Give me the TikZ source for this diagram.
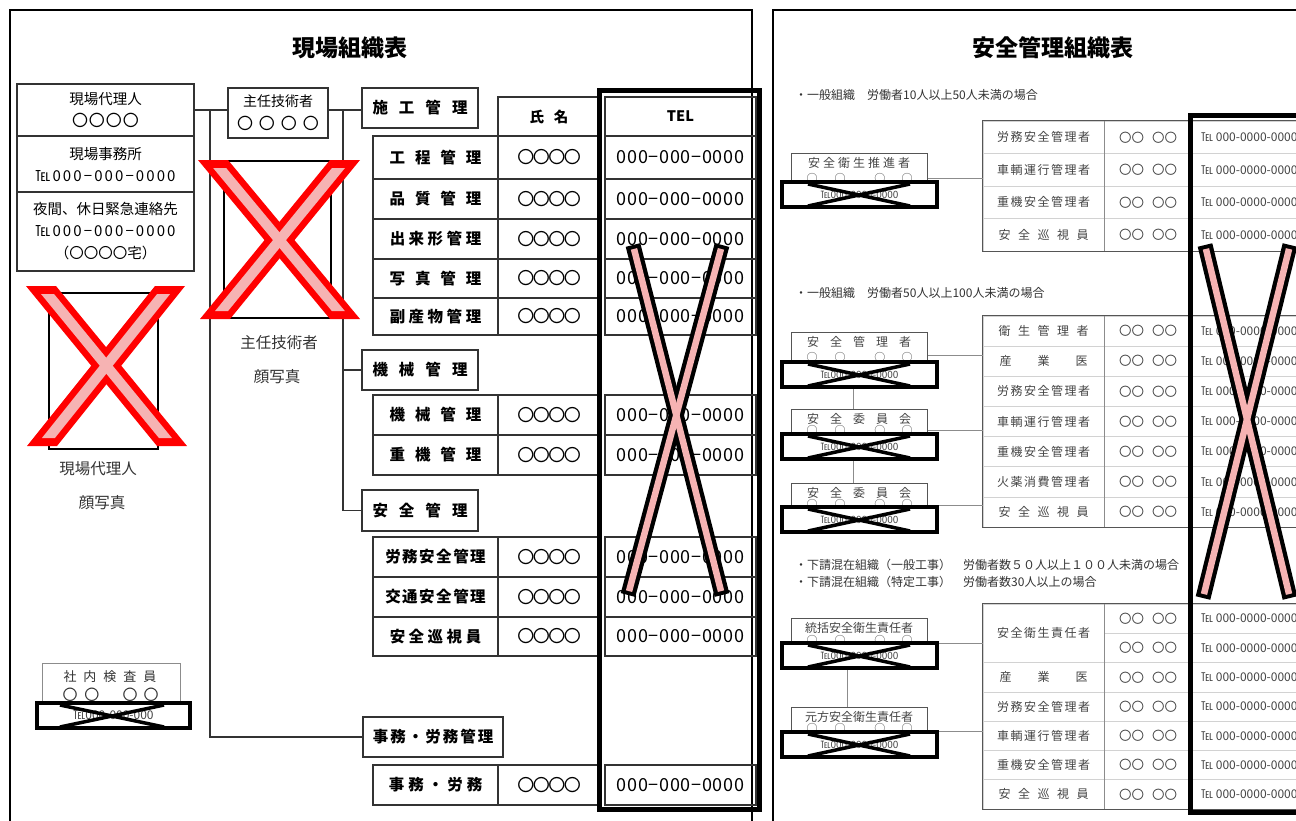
\documentclass[tikz,border=0pt]{standalone}
\usepackage{fontspec}
\setmainfont{Noto Sans CJK JP}
\definecolor{dk}{HTML}{333333}
\definecolor{rtxt}{HTML}{444444}
\definecolor{rlight}{HTML}{D2D2D2}
\definecolor{rmid}{HTML}{8C8C8C}
\definecolor{rbord}{HTML}{555555}
\definecolor{pinkx}{HTML}{F6B3B3}
\definecolor{redx}{HTML}{FF0000}
% letter spacing helper
\newcommand\lsp[2]{\def\lsgap{#1}\lspA#2\relax}
\def\lspA#1#2{#1\ifx\relax#2\else\hspace{\lsgap}\expandafter\lspA\expandafter#2\fi}
% fonts
\newcommand\lf{\fontsize{14.5}{22}\selectfont}
\newcommand\telA{\addfontfeature{LetterSpace=14}\fontsize{15}{22}\selectfont}
\newcommand\lab{\fontsize{15.5}{15.5}\selectfont\bfseries}
\newcommand\lname{\fontsize{17}{17}\selectfont}
\newcommand\ltel{\addfontfeature{LetterSpace=4}\fontsize{18}{18}\selectfont}
\newcommand\rname{\fontsize{12.5}{12.5}\selectfont 〇〇\hspace{8pt}〇〇}
\newcommand\ktel{\fontsize{10}{10}\selectfont}
\tikzset{
  frm/.style={draw=black,line width=2pt},
  ttl/.style={font=\fontsize{23}{23}\selectfont\bfseries,text=black},
  lbox/.style={draw=dk,line width=1.5pt,inner sep=0pt,text=black},
  lcell/.style={draw=dk,line width=1.3pt,inner sep=0pt,text=black},
  conn/.style={draw=dk,line width=1.3pt},
  conn2/.style={draw=rmid,line width=1pt},
  bigr/.style={draw=black,line width=5pt,inner sep=0pt},
  xblack/.style={draw=black,line width=15pt},
  xpink/.style={draw=pinkx,line width=6.5pt,shorten <=4pt,shorten >=4pt},
  photo/.style={draw=black,line width=2.5pt,inner sep=0pt},
  captxt/.style={font=\fontsize{15.5}{15.5}\selectfont,text=dk},
  gbox/.style={draw=rmid,line width=1pt,inner sep=0pt},
  telr/.style={draw=black,fill=white,line width=4pt,inner sep=0pt,text=rtxt},
  xl/.style={draw=black,line width=3.5pt},
  rcell/.style={draw=rlight,line width=0.8pt,inner sep=0pt,text=rtxt,font=\fontsize{12}{12}\selectfont},
  rtel/.style={inner sep=0pt,text=rtxt,font=\fontsize{12}{12}\selectfont},
  rmidl/.style={draw=rmid,line width=1pt},
  rbordl/.style={draw=rbord,line width=1.3pt},
  rhead/.style={anchor=west,inner sep=0pt,text=dk,font=\fontsize{12}{12}\selectfont},
  kbx/.style={draw=rbord,line width=1pt,minimum width=136pt,inner sep=0pt},
  ktx/.style={inner sep=0pt,text=rtxt,font=\fontsize{12}{12}\selectfont},
  kcx/.style={inner sep=0pt,text=rtxt,font=\fontsize{11}{11}\selectfont},
}
% left table row
\newcommand\lrow[4]{%
  \pgfmathsetmacro\ym{(#2+#3)/2}\pgfmathsetmacro\hh{#3-#2}%
  \node[lcell,minimum width=125pt,minimum height=\hh pt,font=\lab] (#1a) at (435.5,\ym) {#4};
  \node[lcell,minimum width=102pt,minimum height=\hh pt,font=\lname] (#1b) at (549,\ym) {\lsp{-1.5pt}{〇〇〇〇}};
  \node[lcell,minimum width=151pt,minimum height=\hh pt,font=\ltel] (#1c) at (680.5,\ym) {000−000−0000};}
% right table row
\newcommand\rnt[3]{%
  \pgfmathsetmacro\ym{(#2+#3)/2}\pgfmathsetmacro\hh{#3-#2}%
  \node[rcell,minimum width=88pt,minimum height=\hh pt] (#1b) at (1148,\ym) {\rname};
  \node[rcell,minimum width=118pt,minimum height=\hh pt] (#1c) at (1251,\ym) {};
  \node[rtel,anchor=west] (#1d) at (1201,\ym) {℡ 000-0000-0000};}
\newcommand\rrow[4]{%
  \pgfmathsetmacro\ym{(#2+#3)/2}\pgfmathsetmacro\hh{#3-#2}%
  \node[rcell,minimum width=121pt,minimum height=\hh pt] (#1a) at (1043.5,\ym) {#4};
  \rnt{#1}{#2}{#3}}
% small crossed boxes of the right sheet
\newcommand\kbox[6]{%
  \pgfmathsetmacro\km{(#2+#3)/2}\pgfmathsetmacro\kh{#3-#2}%
  \pgfmathsetmacro\kt{#2+10}\pgfmathsetmacro\kr{#6+12.5}%
  \node[kbx,minimum height=\kh pt] (#1) at (859,\km) {};
  \node[ktx] (#1t) at (859,\kt) {#4};
  \node[kcx] (#1c) at (859.5,#5) {○\hspace{17pt}○\hspace{29pt}○\hspace{16pt}○};
  \node[telr,minimum width=155pt,minimum height=25pt] (#1r) at (859.5,\kr) {\ktel ℡000-0000-0000};
  \draw[xl] ([shift={(28,4)}]#1r.north west) -- ([shift={(-29,-3)}]#1r.south east);
  \draw[xl] ([shift={(28,-3)}]#1r.south west) -- ([shift={(-29,4)}]#1r.north east);}
% red crossed-out photo
\newcommand\armpoly[6]{\path[#6] ({#1-#5},#2) -- ({#1+#5},#2) -- ({#3+#5},#4) -- ({#3-#5},#4) -- cycle;}
\newcommand\pinkarm[4]{%
  \pgfmathsetmacro\pf{8/(#4-#2)}%
  \pgfmathsetmacro\pxa{#1+(#3-#1)*\pf}\pgfmathsetmacro\pxb{#3-(#3-#1)*\pf}%
  \pgfmathsetmacro\pya{#2+8}\pgfmathsetmacro\pyb{#4-8}%
  \armpoly{\pxa}{\pya}{\pxb}{\pyb}{6.5}{fill=pinkx}}
\newcommand\redX[8]{%
  \armpoly{#1}{#2}{#3}{#4}{15}{fill=redx}
  \armpoly{#5}{#6}{#7}{#8}{15}{fill=redx}
  \pinkarm{#1}{#2}{#3}{#4}
  \pinkarm{#5}{#6}{#7}{#8}}
\begin{document}
\begin{tikzpicture}[x=1pt,y=-1pt]
\useasboundingbox (0,0) rectangle (1296,820);
\fill[white] (0,0) rectangle (1296,820);
%================= LEFT SHEET =================
\draw[frm] (10,10) rectangle (752,830);
\node[ttl] (ttl1) at (350,48) {現場組織表};
% site agent block
\node[lbox,minimum width=177pt,minimum height=52pt,align=center,font=\lf] (gdai1) at (105.5,110) {現場代理人\\{\fontsize{16}{22}\selectfont\lsp{1pt}{〇〇〇〇}}};
\node[lbox,minimum width=177pt,minimum height=56pt,align=center,font=\lf] (gdai2) at (105.5,164) {現場事務所\\{\telA ℡000−000−0000}};
\node[lbox,minimum width=177pt,minimum height=79pt,align=center,font=\lf] (gdai3) at (105.5,231.5) {夜間、休日緊急連絡先\\{\telA ℡000−000−0000}\\（〇〇〇〇宅）};
% chief engineer
\node[lbox,minimum width=100pt,minimum height=50pt,align=center,font=\fontsize{14}{23}\selectfont] (shunin) at (278,113) {主任技術者\\{\fontsize{16}{16}\selectfont\lsp{6pt}{〇〇〇〇}}};
% group headers
\node[lbox,minimum width=116pt,minimum height=40pt,font=\lab] (sekou) at (420,108) {\lsp{11pt}{施工管理}};
\node[lbox,minimum width=116pt,minimum height=40pt,font=\lab] (kikai) at (420,370) {\lsp{11pt}{機械管理}};
\node[lbox,minimum width=116pt,minimum height=41pt,font=\lab] (anzen) at (420,510.5) {\lsp{11pt}{安全管理}};
\node[lbox,minimum width=140pt,minimum height=40pt,font=\lab] (jimu) at (433,737) {\lsp{2pt}{事務・労務管理}};
% table header
\node[lcell,minimum width=102pt,minimum height=39pt,font=\fontsize{14.5}{14.5}\selectfont\bfseries] (hname) at (549,116.5) {\lsp{10pt}{氏名}};
\node[lcell,minimum width=151pt,minimum height=39pt,font=\fontsize{14.5}{14.5}\selectfont\bfseries] (htel) at (680.5,116.5) {TEL};
% rows
\lrow{r1}{136}{179}{\lsp{10pt}{工程管理}}
\lrow{r2}{179}{219}{\lsp{10pt}{品質管理}}
\lrow{r3}{219}{259}{\lsp{3.5pt}{出来形管理}}
\lrow{r4}{259}{298}{\lsp{10pt}{写真管理}}
\lrow{r5}{298}{335}{\lsp{3.5pt}{副産物管理}}
\lrow{r6}{395}{435}{\lsp{10pt}{機械管理}}
\lrow{r7}{435}{475}{\lsp{10pt}{重機管理}}
\lrow{r8}{537}{577}{\lsp{1.5pt}{労務安全管理}}
\lrow{r9}{577}{617}{\lsp{1.5pt}{交通安全管理}}
\lrow{r10}{617}{656}{\lsp{3.5pt}{安全巡視員}}
\lrow{r11}{765}{805}{\lsp{4pt}{事務・労務}}
% connectors
\coordinate (v1) at (210,110);
\coordinate (v2) at (343,110);
\draw[conn] (gdai1.east) -- (gdai1.east -| shunin.west);
\draw[conn] (v1) |- (jimu.west);
\draw[conn] (shunin.east |- v2) -- (v2 -| sekou.west);
\draw[conn] (v2) |- (anzen.west);
\draw[conn] (v2 |- kikai.west) -- (kikai.west);
% photos
\node[photo,minimum width=107pt,minimum height=157pt] (ph2) at (277.5,239.5) {};
\node[photo,minimum width=109pt,minimum height=156pt] (ph1) at (103.5,371) {};
\redX{213}{160}{345}{319}{345}{160}{215}{319}
\redX{41}{286}{172}{446}{170}{286}{42}{446}
\node[captxt] (cap1a) at (98,469) {現場代理人};
\node[captxt] (cap1b) at (102,503) {顔写真};
\node[captxt] (cap2a) at (279,343) {主任技術者};
\node[captxt] (cap2b) at (277,377) {顔写真};
% in-house inspector
\node[gbox,minimum width=138pt,minimum height=59pt] (kensa) at (111,692.5) {};
\node[inner sep=0pt,text=dk,font=\fontsize{13}{13}\selectfont] (kensat) at (110,677) {\lsp{7pt}{社内検査員}};
\node[inner sep=0pt,text=dk,font=\fontsize{15}{15}\selectfont] (kensac) at (110.5,695) {〇\hspace{7pt}〇\hspace{23pt}〇\hspace{6pt}〇};
\node[telr,minimum width=153pt,minimum height=25pt] (kensar) at (113.5,715.5) {\fontsize{12}{12}\selectfont ℡000-000-000};
\draw[xl] ([shift={(25,4)}]kensar.north west) -- ([shift={(-28,-3)}]kensar.south east);
\draw[xl] ([shift={(25,-3)}]kensar.south west) -- ([shift={(-28,4)}]kensar.north east);
% TEL column block
\node[bigr,minimum width=160pt,minimum height=719pt] (blk1) at (679,449.5) {};
\draw[xblack] (633,245) -- (722,595);
\draw[xblack] (722,245) -- (628,595);
\draw[xpink] (633,245) -- (722,595);
\draw[xpink] (722,245) -- (628,595);
%================= RIGHT SHEET =================
\draw[frm] (773,10) rectangle (1310,830);
\node[ttl] (ttl2) at (1053,48) {安全管理組織表};
\node[rhead] (h1) at (795,95) {・一般組織　労働者10人以上50人未満の場合};
\node[rhead] (h2) at (795,293) {・一般組織　労働者50人以上100人未満の場合};
\node[rhead] (h3) at (795,565) {・下請混在組織（一般工事）　労働者数５０人以上１００人未満の場合};
\node[rhead] (h4) at (795,582) {・下請混在組織（特定工事）　労働者数30人以上の場合};
% table 1
\rrow{a1}{121}{153.5}{\lsp{1.5pt}{労務安全管理者}}
\rrow{a2}{153.5}{186}{\lsp{1.5pt}{車輌運行管理者}}
\rrow{a3}{186}{218.5}{\lsp{1.5pt}{重機安全管理者}}
\rrow{a4}{218.5}{251}{\lsp{7.5pt}{安全巡視員}}
\draw[rmidl] (a1a.north east) -- (a4a.south east);
\draw[rbordl] (a1a.north west) rectangle (a4c.south east);
% table 2
\rrow{b1}{316}{346.1}{\lsp{7.5pt}{衛生管理者}}
\rrow{b2}{346.1}{376.3}{\lsp{26pt}{産業医}}
\rrow{b3}{376.3}{406.4}{\lsp{1.5pt}{労務安全管理者}}
\rrow{b4}{406.4}{436.6}{\lsp{1.5pt}{車輌運行管理者}}
\rrow{b5}{436.6}{466.7}{\lsp{1.5pt}{重機安全管理者}}
\rrow{b6}{466.7}{496.9}{\lsp{1.5pt}{火薬消費管理者}}
\rrow{b7}{496.9}{527}{\lsp{7.5pt}{安全巡視員}}
\draw[rmidl] (b1a.north east) -- (b7a.south east);
\draw[rbordl] (b1a.north west) rectangle (b7c.south east);
% table 3
\node[rcell,minimum width=121pt,minimum height=58.6pt] (c0a) at (1043.5,633.3) {\lsp{1.5pt}{安全衛生責任者}};
\rnt{c1}{604}{633.3}
\rnt{c2}{633.3}{662.6}
\rrow{c3}{662.6}{691.9}{\lsp{26pt}{産業医}}
\rrow{c4}{691.9}{721.1}{\lsp{1.5pt}{労務安全管理者}}
\rrow{c5}{721.1}{750.4}{\lsp{1.5pt}{車輌運行管理者}}
\rrow{c6}{750.4}{779.7}{\lsp{1.5pt}{重機安全管理者}}
\rrow{c7}{779.7}{809}{\lsp{7.5pt}{安全巡視員}}
\draw[rmidl] (c0a.north east) -- (c7a.south east);
\draw[rbordl] (c0a.north west) rectangle (c7c.south east);
% connectors of the right sheet (under the boxes)
\coordinate (k1y) at (0,178);
\coordinate (k2y) at (0,355);
\coordinate (k3y) at (0,430);
\coordinate (k4y) at (0,505);
\coordinate (k5y) at (0,643);
\coordinate (k6y) at (0,731);
\coordinate (vx1) at (853,0);
\coordinate (vx2) at (847,0);
\draw[conn2] (927,178) -- (a1a.west |- k1y);
\draw[conn2] (927,355) -- (b1a.west |- k2y);
\draw[conn2] (927,430) -- (b1a.west |- k3y);
\draw[conn2] (927,505) -- (b1a.west |- k4y);
\draw[conn2] (927,643) -- (c0a.west |- k5y);
\draw[conn2] (927,731) -- (c0a.west |- k6y);
\draw[conn2] (vx1 |- 0,381) -- (vx1 |- 0,409);
\draw[conn2] (vx1 |- 0,455) -- (vx1 |- 0,483);
\draw[conn2] (vx2 |- 0,664) -- (vx2 |- 0,707);
% boxes
\kbox{kb1}{153}{205}{\lsp{3pt}{安全衛生推進者}}{178.5}{182}
\kbox{kb2}{332}{381}{\lsp{11pt}{安全管理者}}{357.5}{362}
\kbox{kb3}{409}{455}{\lsp{11pt}{安全委員会}}{430.5}{434}
\kbox{kb4}{483}{528}{\lsp{11pt}{安全委員会}}{504.5}{507}
\kbox{kb5}{618}{664}{統括安全衛生責任者}{640.5}{643}
\kbox{kb6}{707}{752}{元方安全衛生責任者}{728.5}{732}
% TEL column block (right)
\node[bigr,minimum width=122pt,minimum height=697pt] (blk2) at (1251,463.5) {};
\draw[xblack] (1205,245) -- (1290,598);
\draw[xblack] (1290,245) -- (1203,598);
\draw[xpink] (1205,245) -- (1290,598);
\draw[xpink] (1290,245) -- (1203,598);
\end{tikzpicture}
\end{document}
